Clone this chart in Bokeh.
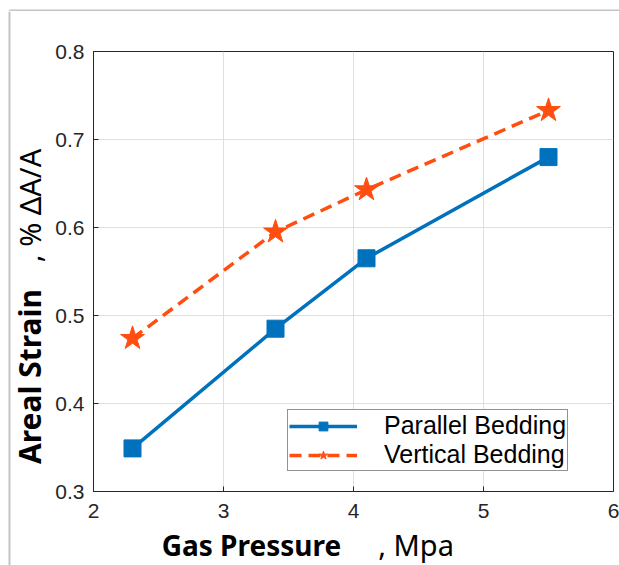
import numpy as np
from bokeh.plotting import figure
from bokeh.layouts import row, column
from bokeh.models import Range1d, Legend, LegendItem, FixedTicker
from bokeh.core.properties import value
from bokeh.embed import file_html
from bokeh.resources import INLINE

# Data
pressure = [2.3, 3.4, 4.1, 5.5]
parallel_bedding = [0.349, 0.485, 0.565, 0.680]
vertical_bedding = [0.474, 0.595, 0.643, 0.733]
x_ticks = [2, 3, 4, 5, 6]
y_ticks = [0.3, 0.4, 0.5, 0.6, 0.7, 0.8]
series_names = ["Parallel Bedding", "Vertical Bedding"]
x_title = ["Gas Pressure", ", Mpa"]
y_title = ["Areal Strain", ", % ΔA/A"]

BLUE = "#0072BD"
ORANGE = "#FF4E0F"
AXC = "#262626"
FRAME = "#c4c4c4"

W_LEFT = 50      # width of the y-title strip
H_TOP = 11       # height of the top strip
H_MAIN = 520
W_MAIN = 619 - W_LEFT
H_XLAB = 565 - H_TOP - H_MAIN
H_BODY = 565 - H_TOP


def blank(width, height, x_range, y_range):
    f = figure(width=width, height=height, x_range=x_range, y_range=y_range,
               output_backend="svg", toolbar_location=None, title=None,
               x_axis_location=None, y_axis_location=None,
               min_border=0, min_border_left=0, min_border_right=0,
               min_border_top=0, min_border_bottom=0, frame_align=False)
    f.grid.visible = False
    f.outline_line_color = None
    f.background_fill_color = "white"
    f.border_fill_color = "white"
    return f


# ---------------- main chart ----------------
p = figure(width=W_MAIN, height=H_MAIN,
           x_range=Range1d(2, 6), y_range=Range1d(0.3, 0.8),
           output_backend="svg", toolbar_location=None, title=None,
           frame_align=False,
           min_border_left=43, min_border_right=6,
           min_border_top=40, min_border_bottom=40)
p.background_fill_color = "white"
p.border_fill_color = "white"
p.outline_line_color = AXC
p.outline_line_width = 1

for ax in (p.xaxis[0], p.yaxis[0]):
    ax.major_tick_in = 5
    ax.major_tick_out = 0
    ax.minor_tick_in = 0
    ax.minor_tick_out = 0
    ax.axis_line_color = AXC
    ax.major_tick_line_color = AXC
    ax.major_label_text_color = AXC
    ax.major_label_text_font = "Liberation Sans"
    ax.major_label_text_font_size = "21px"
p.xaxis.ticker = FixedTicker(ticks=x_ticks)
p.yaxis.ticker = FixedTicker(ticks=y_ticks)
p.xaxis.major_label_standoff = 12
p.yaxis.major_label_standoff = 9

p.xgrid.ticker = FixedTicker(ticks=x_ticks)
p.ygrid.ticker = FixedTicker(ticks=y_ticks)
p.grid.grid_line_color = "#dfdfdf"
p.grid.grid_line_width = 1

l1 = p.line(pressure, parallel_bedding, line_color=BLUE, line_width=3.5)
s1 = p.scatter(pressure, parallel_bedding, marker="square", size=17,
               fill_color=BLUE, line_color=BLUE)
l2 = p.line(pressure, vertical_bedding, line_color=ORANGE, line_width=3.5, line_dash="12 7")
s2 = p.scatter(pressure, vertical_bedding, marker="star", size=25,
               fill_color=ORANGE, line_color=ORANGE)

legend = Legend(items=[LegendItem(label=series_names[0], renderers=[l1, s1]),
                       LegendItem(label=series_names[1], renderers=[l2, s2])],
                location=(194, 20), orientation="vertical",
                label_text_font="Liberation Sans", label_text_font_size="25px",
                label_text_color="black", glyph_width=68, glyph_height=22,
                label_height=22, label_standoff=27, padding=1, spacing=0,
                margin=0, border_line_color=AXC, border_line_width=1,
                background_fill_alpha=1)
p.add_layout(legend)

# ---------------- top strip (outer frame line) ----------------
top = blank(619, H_TOP, Range1d(0, 619), Range1d(0, H_TOP))
top.segment(x0=[9, 9], y0=[H_TOP - 9, H_TOP - 9], x1=[619, 9], y1=[H_TOP - 9, 0],
            line_color=FRAME, line_width=2)

# ---------------- y title strip ----------------
ylab = blank(W_LEFT, H_BODY, Range1d(0, W_LEFT), Range1d(0, H_BODY))
ylab.segment(x0=[9], y0=[H_BODY], x1=[9], y1=[0], line_color=FRAME, line_width=2)
ylab.text(x=[29], y=[565 - 376], text=[y_title[0]], angle=np.pi / 2,
          text_align="center", text_baseline="middle",
          text_font=value("Noto Sans"), text_font_size="30px",
          text_font_style="bold", text_color="black")
ylab.text(x=[29], y=[565 - 205], text=[y_title[1]], angle=np.pi / 2,
          text_align="center", text_baseline="middle",
          text_font=value("Noto Sans"), text_font_size="29px",
          text_color="black")

# ---------------- x title strip ----------------
xlab = figure(width=W_MAIN, height=H_XLAB, x_range=p.x_range, y_range=Range1d(0, H_XLAB),
              output_backend="svg", toolbar_location=None, title=None, frame_align=False,
              x_axis_location=None, y_axis_location=None,
              min_border_left=43, min_border_right=6, min_border_top=0, min_border_bottom=0)
xlab.grid.visible = False
xlab.outline_line_color = None
xlab.text(x=[3.215], y=[21], text=[x_title[0]], text_align="center",
          text_baseline="alphabetic", text_font=value("Noto Sans"),
          text_font_size="28px", text_font_style="bold", text_color="black")
xlab.text(x=[4.19], y=[21], text=[x_title[1]], text_align="left",
          text_baseline="alphabetic", text_font=value("Noto Sans"),
          text_font_size="29px", text_color="black")

layout = column(top, row(ylab, column(p, xlab, spacing=0), spacing=0), spacing=0)

open("out.html", "w").write(file_html(layout, INLINE))
